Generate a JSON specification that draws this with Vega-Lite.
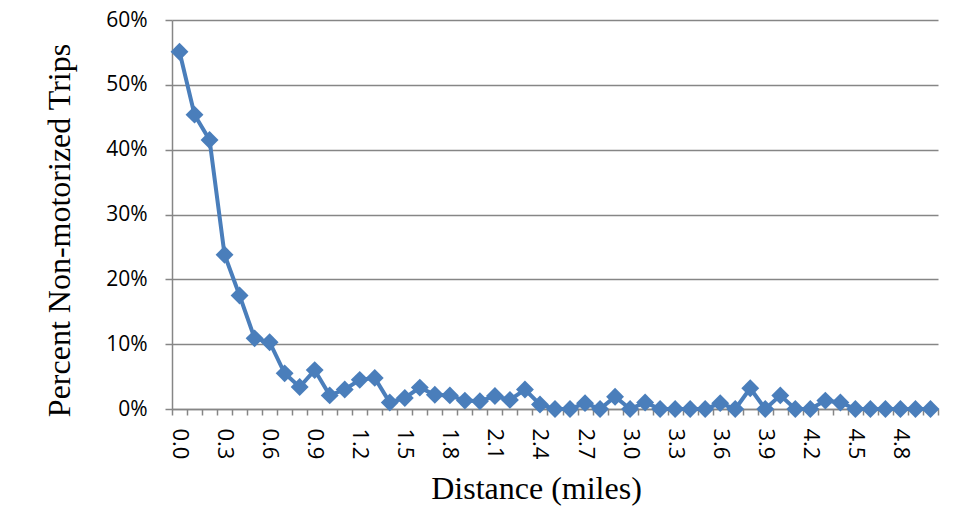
{
  "$schema": "https://vega.github.io/schema/vega-lite/v6.json",
  "autosize": "none",
  "width": 766,
  "height": 389,
  "padding": {"left": 172, "top": 20, "right": 41, "bottom": 109},
  "background": "white",
  "config": {
    "view": {"stroke": null},
    "axis": {
      "labelFont": "Open Sans",
      "labelFontSize": 21,
      "labelColor": "black",
      "titleFont": "Liberation Serif",
      "titleFontSize": 32,
      "titleFontWeight": "normal",
      "titleColor": "black",
      "domainColor": "#868686",
      "tickColor": "#868686",
      "gridColor": "#868686",
      "domainWidth": 1.5,
      "tickWidth": 1.5,
      "gridWidth": 1.3
    }
  },
  "data": {
    "values": [
      {"d": "0.0", "v": 0.551},
      {"d": "0.1", "v": 0.454},
      {"d": "0.2", "v": 0.415},
      {"d": "0.3", "v": 0.238},
      {"d": "0.4", "v": 0.175},
      {"d": "0.5", "v": 0.109},
      {"d": "0.6", "v": 0.103},
      {"d": "0.7", "v": 0.055},
      {"d": "0.8", "v": 0.034},
      {"d": "0.9", "v": 0.060},
      {"d": "1.0", "v": 0.021},
      {"d": "1.1", "v": 0.030},
      {"d": "1.2", "v": 0.045},
      {"d": "1.3", "v": 0.048},
      {"d": "1.4", "v": 0.010},
      {"d": "1.5", "v": 0.017},
      {"d": "1.6", "v": 0.033},
      {"d": "1.7", "v": 0.022},
      {"d": "1.8", "v": 0.021},
      {"d": "1.9", "v": 0.013},
      {"d": "2.0", "v": 0.012},
      {"d": "2.1", "v": 0.020},
      {"d": "2.2", "v": 0.014},
      {"d": "2.3", "v": 0.030},
      {"d": "2.4", "v": 0.007},
      {"d": "2.5", "v": 0.0},
      {"d": "2.6", "v": 0.0},
      {"d": "2.7", "v": 0.009},
      {"d": "2.8", "v": 0.0},
      {"d": "2.9", "v": 0.019},
      {"d": "3.0", "v": 0.0},
      {"d": "3.1", "v": 0.010},
      {"d": "3.2", "v": 0.0},
      {"d": "3.3", "v": 0.0},
      {"d": "3.4", "v": 0.0},
      {"d": "3.5", "v": 0.0},
      {"d": "3.6", "v": 0.009},
      {"d": "3.7", "v": 0.0},
      {"d": "3.8", "v": 0.032},
      {"d": "3.9", "v": 0.0},
      {"d": "4.0", "v": 0.021},
      {"d": "4.1", "v": 0.0},
      {"d": "4.2", "v": 0.0},
      {"d": "4.3", "v": 0.013},
      {"d": "4.4", "v": 0.010},
      {"d": "4.5", "v": 0.0},
      {"d": "4.6", "v": 0.0},
      {"d": "4.7", "v": 0.0},
      {"d": "4.8", "v": 0.0},
      {"d": "4.9", "v": 0.0},
      {"d": "5.0", "v": 0.0}
    ]
  },
  "mark": {
    "type": "line",
    "color": "#4A7EBB",
    "strokeWidth": 4,
    "point": {"shape": "diamond", "size": 320, "filled": true, "opacity": 1, "color": "#4A7EBB"}
  },
  "encoding": {
    "x": {
      "field": "d",
      "type": "ordinal",
      "sort": null,
      "scale": {"type": "band", "paddingInner": 0, "paddingOuter": 0},
      "axis": {
        "title": "Distance (miles)",
        "labelAngle": 90,
        "labelOverlap": false,
        "labelFontSize": 22,
        "labelExpr": "round(toNumber(datum.value) * 10) % 3 === 0 ? datum.label : ''",
        "tickBand": "extent",
        "tickSize": 6,
        "labelPadding": 13,
        "titlePadding": 15,
        "titleX": 364,
        "grid": false
      }
    },
    "y": {
      "field": "v",
      "type": "quantitative",
      "scale": {"domain": [0, 0.6]},
      "axis": {
        "title": "Percent Non-motorized Trips",
        "format": ".0%",
        "values": [0, 0.1, 0.2, 0.3, 0.4, 0.5, 0.6],
        "tickSize": 7,
        "labelPadding": 18,
        "titlePadding": 29,
        "titleY": 210,
        "grid": true
      }
    }
  }
}
